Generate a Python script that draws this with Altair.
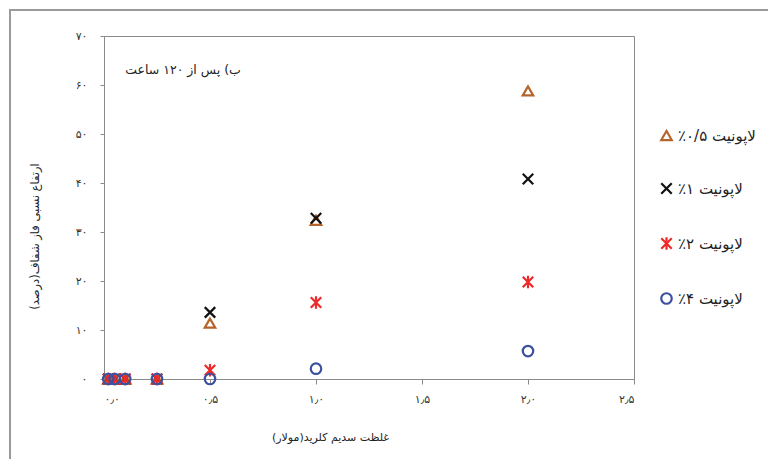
import altair as alt
import pandas as pd

# NaCl concentration (molar) at which each sample was measured
concentration = [0.02, 0.05, 0.1, 0.25, 0.5, 1.0, 2.0]

# Relative height of the clear phase (%) after 120 hours, per laponite content
laponite_05 = [0, 0, 0, 0, 11.4, 32.4, 58.8]
laponite_1 = [0, 0, 0, 0, 13.6, 32.8, 40.8]
laponite_2 = [0, 0, 0, 0, 1.8, 15.6, 19.8]
laponite_4 = [0, 0, 0, 0, 0, 2.1, 5.7]

series_names = ["لاپونیت ۰/۵٪", "لاپونیت ۱٪", "لاپونیت ۲٪", "لاپونیت ۴٪"]
series_values = [laponite_05, laponite_1, laponite_2, laponite_4]
series_colors = ["#B5652B", "#111111", "#EE2A2A", "#3C50A0"]
series_shapes = [
    "triangle-up",
    "M-1,-1L1,1M-1,1L1,-1",
    "M-1,-1L1,1M-1,1L1,-1M0,-1.2L0,1.2",
    "circle",
]

# Axis ticks and their Persian labels
x_ticks = [0, 0.5, 1.0, 1.5, 2.0, 2.5]
x_tick_labels = ["۰٫۰", "۰٫۵", "۱٫۰", "۱٫۵", "۲٫۰", "۲٫۵"]
y_ticks = [0, 10, 20, 30, 40, 50, 60, 70]
y_tick_labels = ["۰", "۱۰", "۲۰", "۳۰", "۴۰", "۵۰", "۶۰", "۷۰"]

# RLM marks keep right-to-left text in a right-to-left paragraph
RLM = "\u200f"
panel_note = RLM + "ب) پس از ۱۲۰ ساعت" + RLM
x_title = RLM + "غلظت سدیم کلرید(مولار)" + RLM
y_title = RLM + "ارتفاع نسبی فاز شفاف(درصد)" + RLM

FONT = "DejaVu Sans"

rows = []
for name, vals in zip(series_names, series_values):
    for c, v in zip(concentration, vals):
        rows.append({"series": name, "conc": c, "value": v})
points_df = pd.DataFrame(rows)


def label_lookup(ticks, labels):
    pairs = ", ".join(f"'{t:g}': '{l}'" for t, l in zip(ticks, labels))
    return "{" + pairs + "}[toString(datum.value)]"


x_scale = alt.Scale(domain=[0, 2.5], nice=False, zero=True)
y_scale = alt.Scale(domain=[0, 70], nice=False)

points = alt.Chart(points_df).mark_point(
    filled=False, strokeWidth=2.2, size=110, opacity=1
).encode(
    x=alt.X(
        "conc:Q",
        scale=x_scale,
        axis=alt.Axis(
            values=x_ticks,
            labelExpr=label_lookup(x_ticks, x_tick_labels),
            grid=False,
            domainColor="#8a8a8a",
            tickColor="#8a8a8a",
            tickSize=5,
            labelPadding=9,
            labelFont=FONT,
            labelFontSize=11,
            labelColor="#333333",
            title=x_title,
            titleFont=FONT,
            titleFontSize=11,
            titleFontWeight="normal",
            titleColor="#222222",
            titleX=226,
            titleY=58,
            titleAlign="center",
            titleBaseline="middle",
        ),
    ),
    y=alt.Y(
        "value:Q",
        scale=y_scale,
        axis=alt.Axis(
            values=y_ticks,
            labelExpr=label_lookup(y_ticks, y_tick_labels),
            grid=False,
            domainColor="#8a8a8a",
            tickColor="#8a8a8a",
            tickSize=4,
            labelPadding=13,
            labelFont=FONT,
            labelFontSize=11,
            labelColor="#333333",
            title=y_title,
            titleFont=FONT,
            titleFontSize=11.5,
            titleFontWeight="normal",
            titleColor="#222222",
            titleAngle=270,
            titleX=-69,
            titleY=200,
            titleAlign="center",
            titleBaseline="middle",
        ),
    ),
    color=alt.Color(
        "series:N",
        sort=series_names,
        scale=alt.Scale(domain=series_names, range=series_colors),
        legend=alt.Legend(
            title=None,
            orient="none",
            legendX=555,
            legendY=92,
            labelFont=FONT,
            labelFontSize=15,
            labelColor="#222222",
            symbolSize=110,
            symbolStrokeWidth=2.2,
            rowPadding=33,
            labelOffset=4,
            labelExpr="'\u200f' + datum.label + '\u200f'",
        ),
    ),
    shape=alt.Shape(
        "series:N",
        sort=series_names,
        scale=alt.Scale(domain=series_names, range=series_shapes),
    ),
    order=alt.Order("idx:Q"),
).transform_calculate(
    idx="indexof(" + str(series_names).replace('"', "'") + ", datum.series)"
)

note = alt.Chart(pd.DataFrame({"conc": [0.1], "value": [63], "text": [panel_note]})).mark_text(
    align="left", baseline="middle", font=FONT, fontSize=12.5, color="#222222"
).encode(x=alt.X("conc:Q", scale=x_scale), y=alt.Y("value:Q", scale=y_scale), text="text:N")

# Outer border of the figure
frame = alt.Chart(pd.DataFrame({"k": [0]})).mark_rect(
    fillOpacity=0, stroke="#9a9a9a", strokeWidth=2
).encode(
    x=alt.value(-94), x2=alt.value(720), y=alt.value(-26), y2=alt.value(500)
)

chart = alt.layer(frame, points, note).properties(
    width=530,
    height=343,
    padding={"left": 104, "top": 36, "right": 134, "bottom": 80},
    autosize=alt.AutoSizeParams(type="none"),
    background="white",
).configure_view(stroke="#8a8a8a", strokeWidth=1)

chart.save("out.html", embed_options={"renderer": "svg", "actions": False})
